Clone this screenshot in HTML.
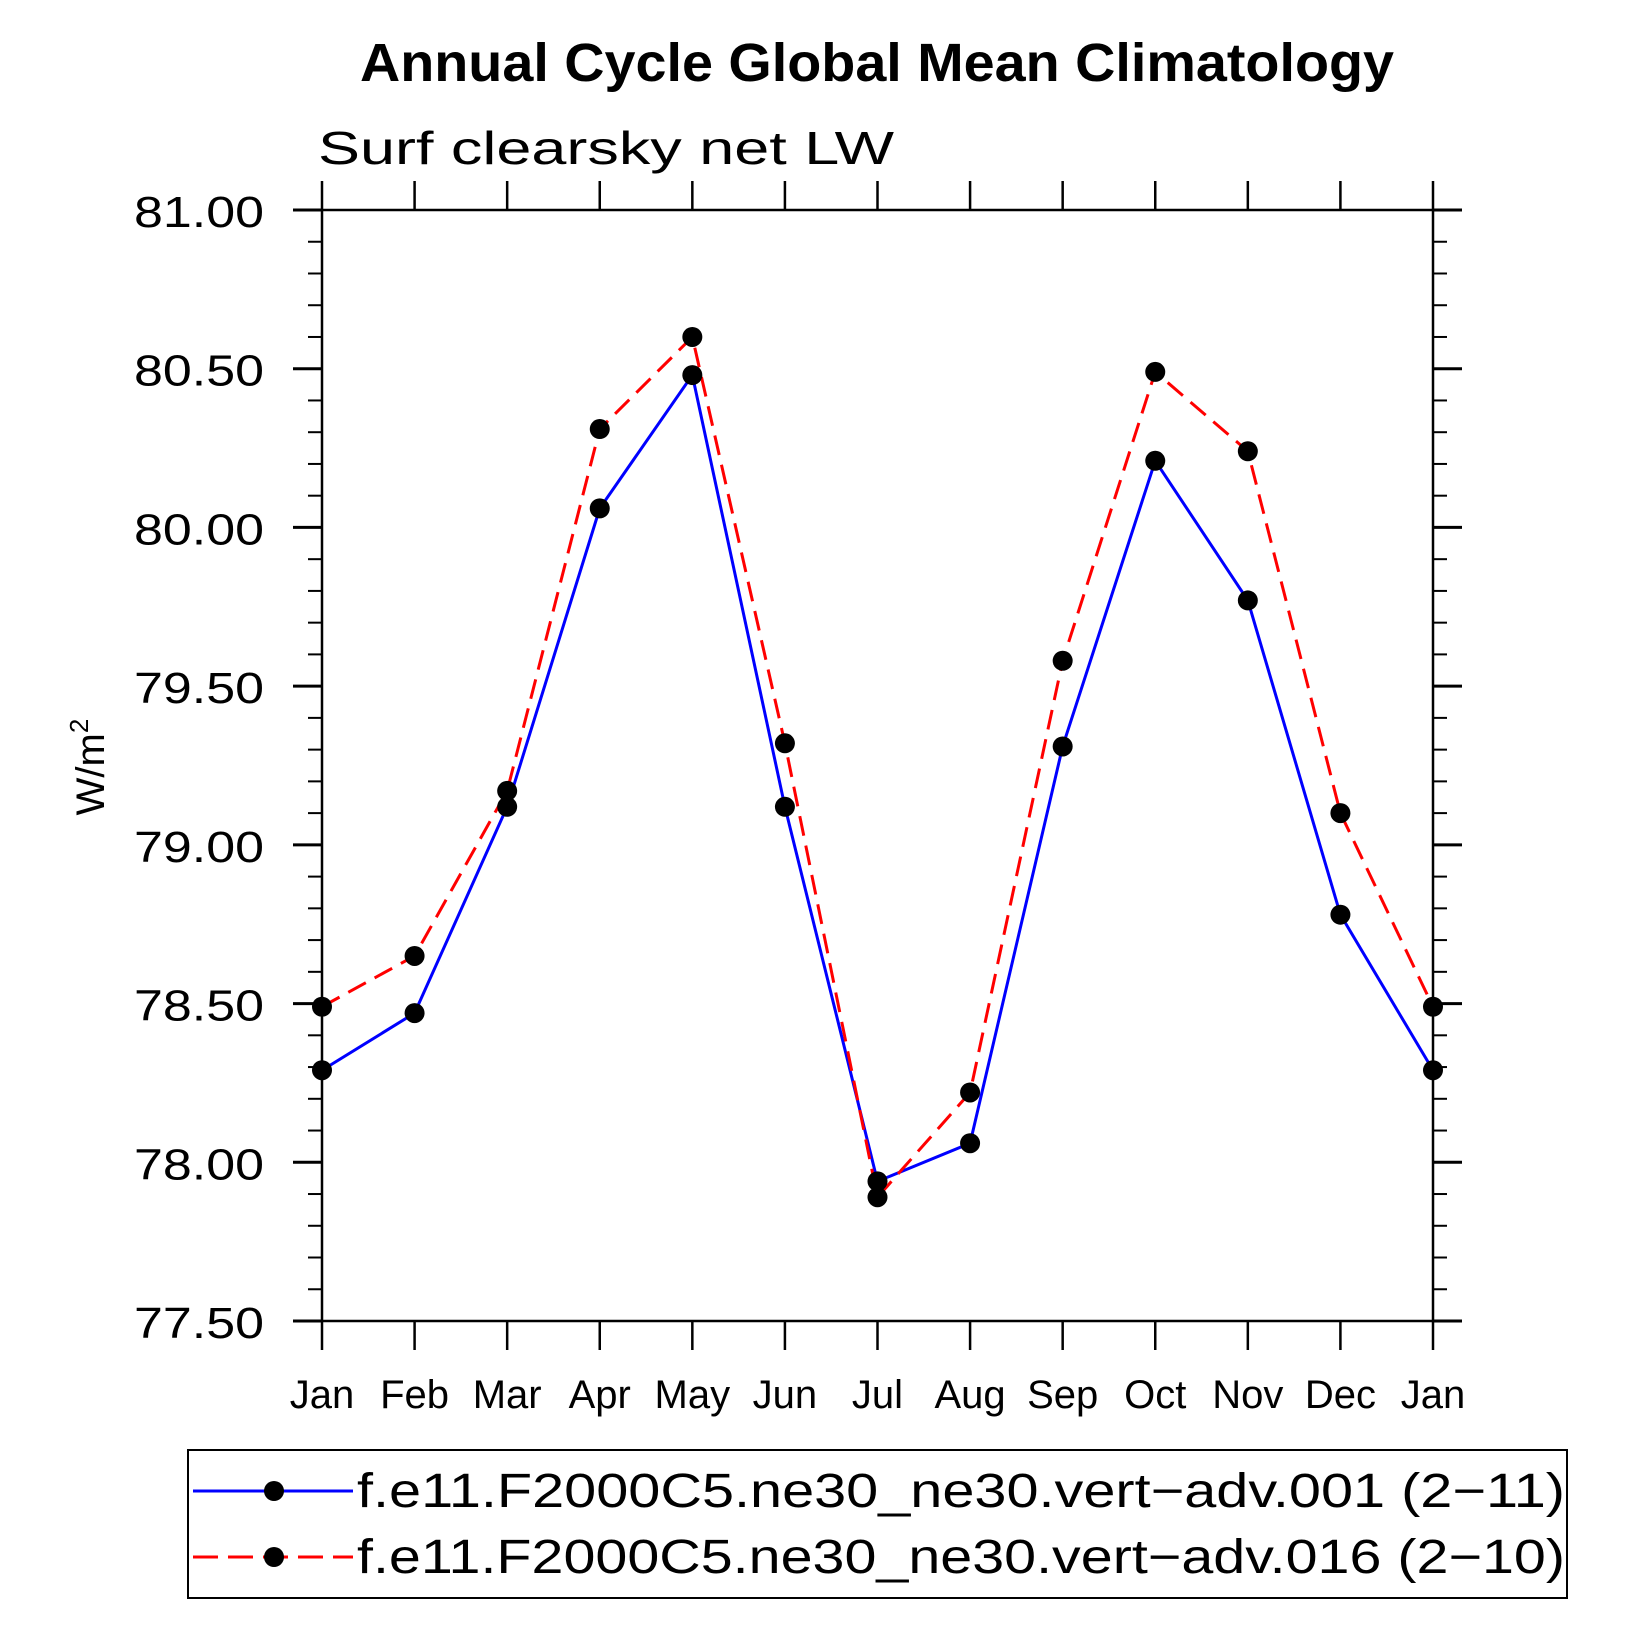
<!DOCTYPE html>
<html><head><meta charset="utf-8"><style>html,body{margin:0;padding:0;background:#fff}svg{display:block}</style></head>
<body>
<svg id="chart" width="1636" height="1636" viewBox="0 0 1636 1636" xmlns="http://www.w3.org/2000/svg" font-family="Liberation Sans, sans-serif">
<rect x="0" y="0" width="1636" height="1636" fill="#fff"/>
<text x="877" y="81" text-anchor="middle" font-size="54" font-weight="bold" textLength="1034" lengthAdjust="spacingAndGlyphs">Annual Cycle Global Mean Climatology</text>
<text x="318" y="164" font-size="46" textLength="576" lengthAdjust="spacingAndGlyphs">Surf clearsky net LW</text>
<text transform="translate(104,767) rotate(-90)" text-anchor="middle" font-size="40">W/m<tspan font-size="26" dy="-16">2</tspan></text>
<g id="axes"></g>
<g id="series"></g>
<g>
<rect x="188" y="1450" width="1379" height="148" fill="none" stroke="#000" stroke-width="2"/>
<line x1="193" y1="1491" x2="353" y2="1491" stroke="#00f" stroke-width="3"/>
<circle cx="274" cy="1491" r="10" fill="#000"/>
<text x="357" y="1507" font-size="48" textLength="1208" lengthAdjust="spacingAndGlyphs">f.e11.F2000C5.ne30_ne30.vert−adv.001 (2−11)</text>
<line x1="193" y1="1557" x2="353" y2="1557" stroke="#f00" stroke-width="3" stroke-dasharray="25 10"/>
<circle cx="274" cy="1557" r="10" fill="#000"/>
<text x="357" y="1573" font-size="48" textLength="1208" lengthAdjust="spacingAndGlyphs">f.e11.F2000C5.ne30_ne30.vert−adv.016 (2−10)</text>
</g>
</svg>
<script>
const months = ["Jan","Feb","Mar","Apr","May","Jun","Jul","Aug","Sep","Oct","Nov","Dec","Jan"];
const blueValues = [78.29,78.47,79.12,80.06,80.48,79.12,77.94,78.06,79.31,80.21,79.77,78.78,78.29];
const redValues = [78.49,78.65,79.17,80.31,80.60,79.32,77.89,78.22,79.58,80.49,80.24,79.10,78.49];
const yTickLabels = ["77.50","78.00","78.50","79.00","79.50","80.00","80.50","81.00"];
const yMin = 77.5, yMax = 81.0;
const L=322,R=1433,T=210,B=1321;
const NS="http://www.w3.org/2000/svg";
function xs(i){return L+(R-L)*i/(months.length-1);}
function ys(v){return B-(B-T)*(v-yMin)/(yMax-yMin);}
function mk(tag,attrs,parent){const e=document.createElementNS(NS,tag);for(const k in attrs)e.setAttribute(k,attrs[k]);parent.appendChild(e);return e;}
const ax=document.getElementById('axes');
let fr=mk('rect',{x:L,y:T,width:R-L,height:B-T,fill:'none',stroke:'#000','stroke-width':2.5},ax);


for(let k=0;k<=35;k++){
  const v=yMin+k*0.1, y=ys(v), major=(k%5===0);
  const len=major?29:14;
  let t1=mk('line',{x1:L-len,y1:y,x2:L,y2:y,stroke:'#000','stroke-width':major?3:2},ax);
  
  
  let t2=mk('line',{x1:R,y1:y,x2:R+len,y2:y,stroke:'#000','stroke-width':major?3:2},ax);
  
  
}
yTickLabels.forEach(function(lab){
  const v=parseFloat(lab);
  let t=mk('text',{x:264,y:ys(v)+17,'text-anchor':'end','font-size':44,textLength:130,lengthAdjust:'spacingAndGlyphs'},ax);
  t.textContent=lab;
  
  
});
months.forEach(function(m,i){
  const x=xs(i);
  let a=mk('line',{x1:x,y1:B,x2:x,y2:B+29,stroke:'#000','stroke-width':2.5},ax);
  
  
  let b=mk('line',{x1:x,y1:T-29,x2:x,y2:T,stroke:'#000','stroke-width':2.5},ax);
  
  
  let t=mk('text',{x:x,y:1408,'text-anchor':'middle','font-size':40},ax);
  t.textContent=m;
  
  
});
const sg=document.getElementById('series');
function drawSeries(vals,color,dash,name){
  const pts=vals.map(function(v,i){return xs(i)+','+ys(v);}).join(' ');
  const attrs={points:pts,fill:'none',stroke:color,'stroke-width':3};
  if(dash)attrs['stroke-dasharray']=dash;
  let pl=mk('polyline',attrs,sg);
  
  
  return pl;
}
function drawMarkers(vals,name){
  vals.forEach(function(v,i){
    let c=mk('circle',{cx:xs(i),cy:ys(v),r:10,fill:'#000'},sg);
    
    
  });
}
drawSeries(blueValues,'#00f',null,'series-001');
drawSeries(redValues,'#f00','20 10','series-016');
drawMarkers(blueValues,'series-001');
drawMarkers(redValues,'series-016');
</script>
</body></html>
